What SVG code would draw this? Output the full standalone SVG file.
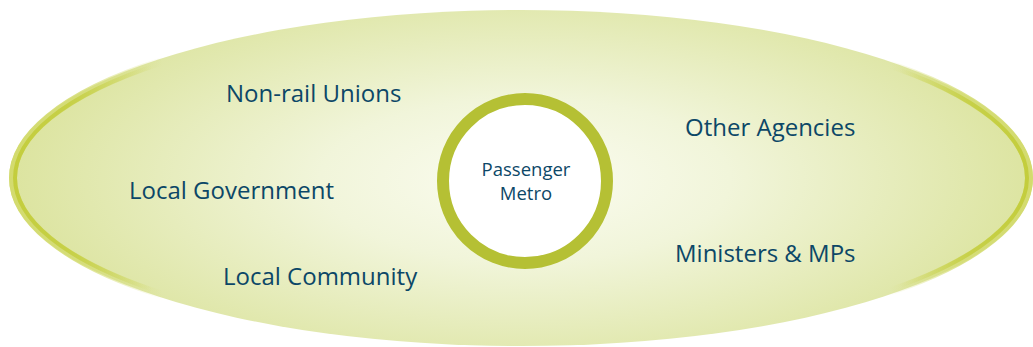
<svg xmlns="http://www.w3.org/2000/svg" width="1033" height="347" viewBox="0 0 1033 347">
<defs>
<radialGradient id="fillG" cx="525" cy="180" r="512" gradientUnits="userSpaceOnUse" gradientTransform="translate(525 180) scale(1 0.4) translate(-525 -180)">
<stop offset="0" stop-color="#fbfcf1"/>
<stop offset="0.4" stop-color="#f1f5da"/>
<stop offset="1" stop-color="#dce4a0"/>
</radialGradient>
<linearGradient id="rimOuter" x1="9" y1="0" x2="1033" y2="0" gradientUnits="userSpaceOnUse">
<stop offset="0" stop-color="#d3db6e" stop-opacity="1"/>
<stop offset="0.07" stop-color="#d3db6e" stop-opacity="0.8"/>
<stop offset="0.15" stop-color="#d3db6e" stop-opacity="0"/>
<stop offset="0.86" stop-color="#d3db6e" stop-opacity="0"/>
<stop offset="0.93" stop-color="#d3db6e" stop-opacity="0.8"/>
<stop offset="1" stop-color="#d3db6e" stop-opacity="1"/>
</linearGradient>
<linearGradient id="rimInner" x1="9" y1="0" x2="1033" y2="0" gradientUnits="userSpaceOnUse">
<stop offset="0" stop-color="#c3cd3c" stop-opacity="1"/>
<stop offset="0.06" stop-color="#c3cd3c" stop-opacity="0.8"/>
<stop offset="0.14" stop-color="#c3cd3c" stop-opacity="0"/>
<stop offset="0.87" stop-color="#c3cd3c" stop-opacity="0"/>
<stop offset="0.94" stop-color="#c3cd3c" stop-opacity="0.8"/>
<stop offset="1" stop-color="#c3cd3c" stop-opacity="1"/>
</linearGradient>
</defs>
<style>
.lbl{font-family:"Open Sans","Noto Sans",sans-serif;font-size:24px;font-weight:500;fill:#0c4767;}
.ctr{font-family:"Open Sans","Noto Sans",sans-serif;font-size:18.5px;font-weight:500;fill:#0c4767;text-anchor:middle;}
</style>
<rect width="1033" height="347" fill="#ffffff"/>
<g id="field">
<ellipse cx="521" cy="178" rx="512" ry="168" fill="url(#fillG)"/>
<ellipse cx="521" cy="178" rx="508" ry="165" fill="none" stroke="url(#rimOuter)" stroke-width="8"/>
<ellipse cx="521" cy="178" rx="506" ry="163" fill="none" stroke="url(#rimInner)" stroke-width="4"/>
</g>
<g id="connectors"></g>
<g id="passenger-metro">
<circle cx="525" cy="181" r="82" fill="#ffffff" stroke="#b5c034" stroke-width="12"/>
<text class="ctr" x="526" y="176">Passenger</text>
<text class="ctr" x="526" y="200">Metro</text>
</g>
<g id="non-rail-unions"><text class="lbl" x="226" y="102">Non-rail Unions</text></g>
<g id="local-government"><text class="lbl" x="129" y="199">Local Government</text></g>
<g id="local-community"><text class="lbl" x="223" y="285">Local Community</text></g>
<g id="other-agencies"><text class="lbl" x="685" y="136">Other Agencies</text></g>
<g id="ministers-mps"><text class="lbl" x="675" y="262">Ministers &amp; MPs</text></g>
</svg>
